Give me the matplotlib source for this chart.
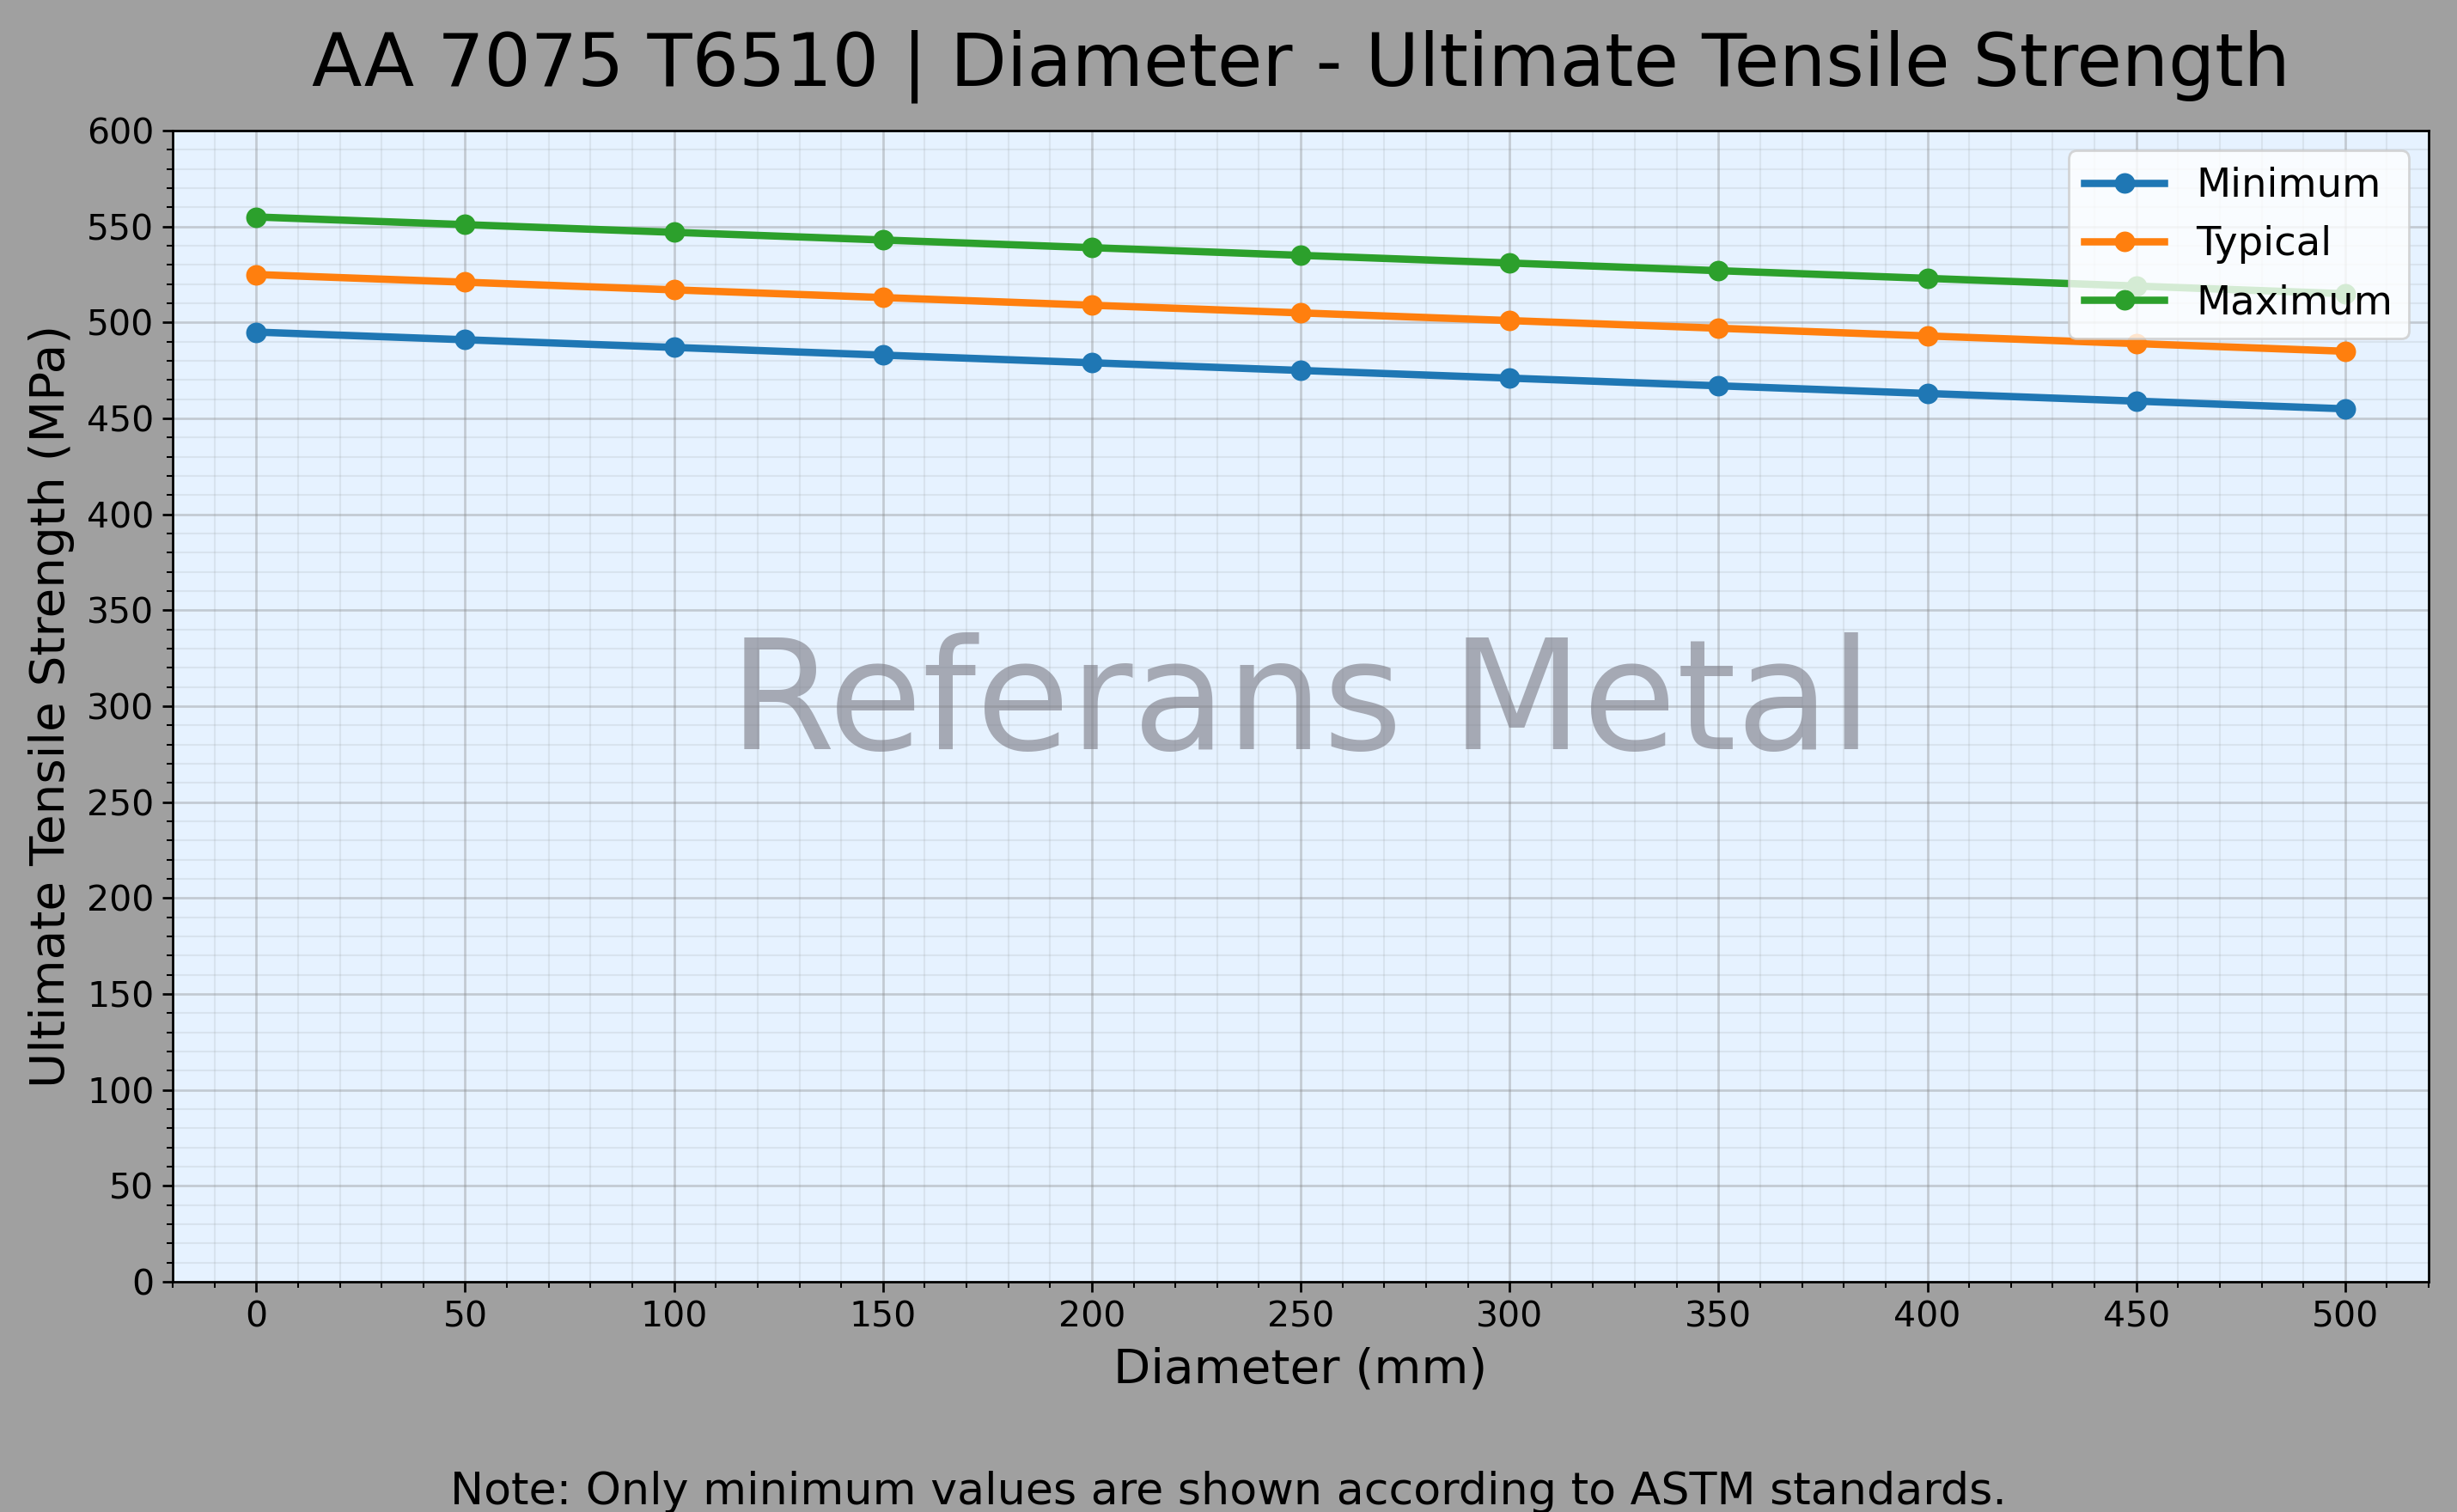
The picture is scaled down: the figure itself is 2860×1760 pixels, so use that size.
import numpy as np
import matplotlib
matplotlib.use("Agg")
import matplotlib.pyplot as plt
from matplotlib.ticker import MultipleLocator

# data
diameters = [0, 50, 100, 150, 200, 250, 300, 350, 400, 450, 500]
uts_minimum = [495, 491, 487, 483, 479, 475, 471, 467, 463, 459, 455]
uts_typical = [525, 521, 517, 513, 509, 505, 501, 497, 493, 489, 485]
uts_maximum = [555, 551, 547, 543, 539, 535, 531, 527, 523, 519, 515]
series_names = ["Minimum", "Typical", "Maximum"]

S = 1.23  # size scale (reference was drawn at a higher dpi)

fig = plt.figure(figsize=(14.3, 8.8), dpi=200, facecolor="#a0a0a0")
ax = fig.add_axes([0.0703, 0.1523, 0.9885 - 0.0703, 0.9136 - 0.1523])
ax.set_facecolor("#e6f2ff")

for name, vals in zip(series_names, [uts_minimum, uts_typical, uts_maximum]):
    ax.plot(diameters, vals, marker="o", lw=2.5 * S, ms=6 * S, mew=1.0 * S,
            label=name)

ax.set_xlim(-20, 520)
ax.set_ylim(0, 600)
ax.xaxis.set_major_locator(MultipleLocator(50))
ax.yaxis.set_major_locator(MultipleLocator(50))
ax.xaxis.set_minor_locator(MultipleLocator(10))
ax.yaxis.set_minor_locator(MultipleLocator(10))
ax.grid(which="major", color="gray", alpha=0.35, lw=0.8 * S)
ax.grid(which="minor", color="gray", alpha=0.13, lw=0.6 * S)
ax.tick_params(which="major", labelsize=12 * S, length=3.5 * S, width=0.8 * S)
ax.tick_params(which="minor", length=2 * S, width=0.6 * S)
for sp in ax.spines.values():
    sp.set_linewidth(0.8 * S)

ax.set_title("AA 7075 T6510 | Diameter - Ultimate Tensile Strength",
             fontsize=25 * S, pad=15.3 * S)
ax.set_xlabel("Diameter (mm)", fontsize=16.5 * S, labelpad=4 * S)
ax.set_ylabel("Ultimate Tensile Strength (MPa)", fontsize=16.5 * S, labelpad=4 * S)

ax.text(0.5, 0.5, "Referans Metal", transform=ax.transAxes, ha="center",
        va="center", fontsize=52 * S, color="#7d7d87", alpha=0.62, zorder=5)

ax.legend(loc="upper right", fontsize=13.6 * S, framealpha=0.8)

fig.text(0.5, 0.005, "Note: Only minimum values are shown according to ASTM standards.",
         ha="center", va="baseline", fontsize=15.3 * S)

fig.savefig("out.png", dpi=200, facecolor=fig.get_facecolor())
